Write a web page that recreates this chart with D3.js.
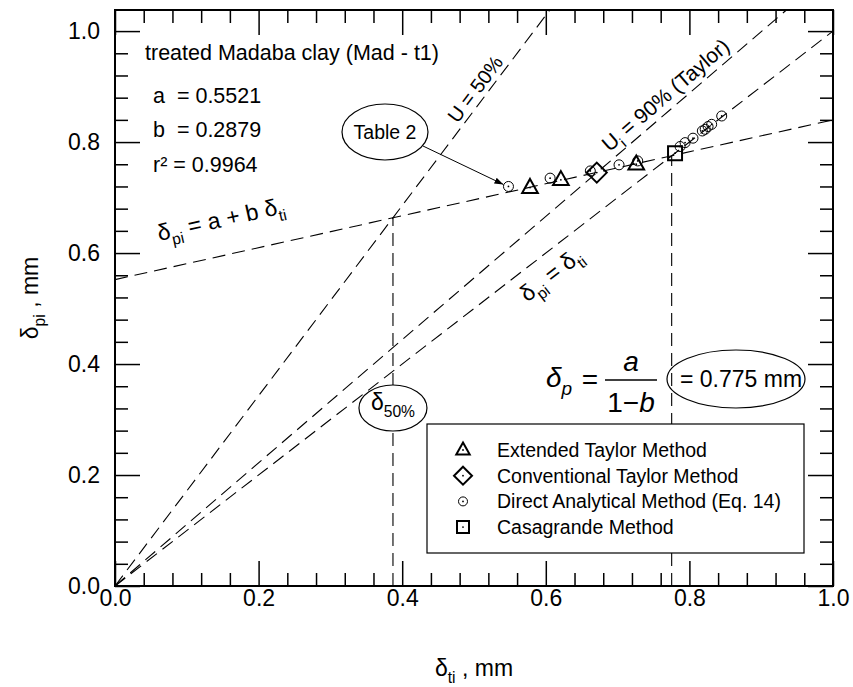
<!DOCTYPE html>
<html>
<head>
<meta charset="utf-8">
<script src="https://cdn.jsdelivr.net/npm/d3@7"></script>
<style>
  body { margin: 0; background: #fff; }
  svg text { font-family: "Liberation Sans", Arial, sans-serif; fill: #000; white-space: pre; }
</style>
</head>
<body>
<script>
const svgWidth = 853
const svgHeight = 687

// frame of the plot
const frame = { left: 115, right: 833, top: 10, bottom: 586 }

// axis ticks
const majorTicks = [0, 0.2, 0.4, 0.6, 0.8, 1.0]
const tickLabels = ["0.0", "0.2", "0.4", "0.6", "0.8", "1.0"]
const minorTicks = [0.04, 0.08, 0.12, 0.16, 0.24, 0.28, 0.32, 0.36, 0.44, 0.48, 0.52, 0.56,
                    0.64, 0.68, 0.72, 0.76, 0.84, 0.88, 0.92, 0.96]

// fit  d_pi = a + b d_ti
const fitA = 0.5521
const fitB = 0.2879
const fitR2 = 0.9964

// slopes of the lines through the origin
const slopeU50 = 1.714
const slopeU90 = 1.11
const slopeEqual = 1.0

// measured points (delta_ti, delta_pi)
const extTaylorX = [0.578, 0.621, 0.726]
const extTaylorY = [0.718, 0.732, 0.760]
const convTaylorX = [0.671]
const convTaylorY = [0.745]
const directX = [0.548, 0.606, 0.662, 0.702, 0.728, 0.787, 0.794, 0.805, 0.818, 0.822, 0.826, 0.831, 0.845]
const directY = [0.720, 0.735, 0.748, 0.759, 0.766, 0.792, 0.799, 0.807, 0.820, 0.823, 0.828, 0.832, 0.847]
const casaX = [0.780]
const casaY = [0.780]

const legendLabels = ["Extended Taylor Method", "Conventional Taylor Method",
                      "Direct Analytical Method (Eq. 14)", "Casagrande Method"]

const svg = d3.select("body").append("svg")
  .attr("width", svgWidth)
  .attr("height", svgHeight)

const x = d3.scaleLinear().domain([0, 1]).range([frame.left, frame.right])
const y = d3.scaleLinear().domain([0, 1.038]).range([frame.bottom, frame.top])

const yMax = y.domain()[1]
const dashed = "13,7"

// ---- axes (ticks pointing inward on all four sides)
function addAxis(axis, tx, ty, size, labels) {
  const g = svg.append("g")
    .attr("transform", `translate(${tx}, ${ty})`)
    .call(axis.tickSize(-size).tickFormat(labels ? (d, i) => labels[i] : ""))
  g.select(".domain").remove()
  g.selectAll(".tick line").attr("stroke", "#000").attr("stroke-width", 1.5)
  return g
}

const xb = addAxis(d3.axisBottom(x).tickValues(majorTicks).tickPadding(4), 0, frame.bottom, 25, tickLabels)
addAxis(d3.axisBottom(x).tickValues(minorTicks), 0, frame.bottom, 13)
addAxis(d3.axisTop(x).tickValues(majorTicks), 0, frame.top, 25)
addAxis(d3.axisTop(x).tickValues(minorTicks), 0, frame.top, 13)
const yl = addAxis(d3.axisLeft(y).tickValues(majorTicks).tickPadding(15), frame.left, 0, 25, tickLabels)
addAxis(d3.axisLeft(y).tickValues(minorTicks), frame.left, 0, 13)
addAxis(d3.axisRight(y).tickValues(majorTicks), frame.right, 0, 25)
addAxis(d3.axisRight(y).tickValues(minorTicks), frame.right, 0, 13)

xb.selectAll("text").attr("font-size", 23).attr("font-family", "Liberation Sans")
yl.selectAll("text").attr("font-size", 23).attr("font-family", "Liberation Sans")

svg.append("rect")
  .attr("x", frame.left).attr("y", frame.top)
  .attr("width", frame.right - frame.left).attr("height", frame.bottom - frame.top)
  .attr("fill", "none").attr("stroke", "#000").attr("stroke-width", 2)

// ---- text with subscripts
function rich(g, parts, size, family) {
  const t = g.append("text").attr("font-size", size)
  if (family) t.attr("font-family", family)
  let down = false
  parts.forEach(([s, sub]) => {
    const ts = t.append("tspan").text(s)
    if (sub) {
      ts.attr("font-size", size * 0.68)
      if (!down) { ts.attr("dy", size * 0.3); down = true }
    } else if (down) {
      ts.attr("dy", -size * 0.3); down = false
    }
  })
  return t
}

// axis titles
rich(svg.append("g").attr("transform", "translate(474, 676)"),
  [["δ"], ["ti", 1], [" , mm"]], 23).attr("text-anchor", "middle")
rich(svg.append("g").attr("transform", "translate(38, 298) rotate(-90)"),
  [["δ"], ["pi", 1], [" , mm"]], 23).attr("text-anchor", "middle")

// ---- dashed lines
const lineGen = d3.line().x(d => x(d[0])).y(d => y(d[1]))
const lines = svg.append("g").attr("fill", "none").attr("stroke", "#000")
  .attr("stroke-width", 1.1).attr("stroke-dasharray", dashed)

;[slopeU50, slopeU90, slopeEqual].forEach(s => {
  const xe = Math.min(1, yMax / s)
  lines.append("path").attr("d", lineGen([[0, 0], [xe, s * xe]]))
})
lines.append("path").attr("d", lineGen([[0, fitA], [1, fitA + fitB]]))

const x50 = fitA / (slopeU50 - fitB)
const xp = fitA / (1 - fitB)
lines.append("path").attr("d", lineGen([[x50, 0], [x50, fitA + fitB * x50]]))
lines.append("path").attr("d", lineGen([[xp, 0], [xp, xp]]))

// angle of a line of given slope on screen
function angle(s) {
  return -Math.atan2(y(0) - y(s), x(1) - x(0)) * 180 / Math.PI
}

// line labels
rich(svg.append("g").attr("transform", `translate(${x(0.07)}, ${y(fitA + fitB * 0.07)}) rotate(${angle(fitB)})`),
  [["δ"], ["pi", 1], [" = a + b δ"], ["ti", 1]], 23).attr("dy", -28)

rich(svg.append("g").attr("transform", `translate(${x(0.59)}, ${y(0.59)}) rotate(${angle(slopeEqual)})`),
  [["δ"], ["pi", 1], [" = δ"], ["ti", 1]], 23).attr("text-anchor", "middle").attr("dy", 28)

svg.append("g").attr("transform", `translate(${x(0.515)}, ${y(0.515 * slopeU50)}) rotate(${angle(slopeU50)})`)
  .append("text").attr("font-size", 20).attr("text-anchor", "middle").attr("dy", -5).text("U = 50%")

rich(svg.append("g").attr("transform", `translate(${x(0.695)}, ${y(0.695 * slopeU90)}) rotate(${angle(slopeU90)})`),
  [["U"], ["i", 1], [" = 90% (Taylor)"]], 21).attr("dy", -7)

// ---- annotation block
const info = svg.append("g")
info.append("text").attr("x", 145).attr("y", 60).attr("font-size", 21.5).text("treated Madaba clay (Mad - t1)")
info.append("text").attr("x", 153).attr("y", 103).attr("font-size", 21.5).text(`a  = ${fitA}`)
info.append("text").attr("x", 153).attr("y", 137).attr("font-size", 21.5).text(`b  = ${fitB}`)
info.append("text").attr("x", 153).attr("y", 172).attr("font-size", 21.5).text(`r² = ${fitR2}`)

// Table 2 callout
svg.append("defs").append("marker")
  .attr("id", "arrow").attr("viewBox", "0 0 10 10").attr("refX", 10).attr("refY", 5)
  .attr("markerWidth", 9).attr("markerHeight", 9).attr("orient", "auto")
  .append("path").attr("d", "M0,1.5 L10,5 L0,8.5 Z").attr("fill", "#000")

svg.append("ellipse").attr("cx", 385).attr("cy", 132).attr("rx", 43).attr("ry", 28)
  .attr("fill", "none").attr("stroke", "#000").attr("stroke-width", 1.2)
svg.append("text").attr("x", 385).attr("y", 139).attr("text-anchor", "middle").attr("font-size", 19.5).text("Table 2")
const tx = x(directX[0]) - 5, ty = y(directY[0]) - 2
svg.append("line").attr("x1", 423).attr("y1", 146).attr("x2", tx).attr("y2", ty)
  .attr("stroke", "#000").attr("stroke-width", 1).attr("marker-end", "url(#arrow)")

// delta_50 callout
svg.append("ellipse").attr("cx", x(x50)).attr("cy", 408).attr("rx", 34).attr("ry", 23)
  .attr("fill", "#fff").attr("stroke", "#000").attr("stroke-width", 1.2)
rich(svg.append("g").attr("transform", `translate(${x(x50)}, 410)`),
  [["δ"], ["50%", 1]], 23).attr("text-anchor", "middle")

// formula  delta_p = a / (1 - b)
const serif = "Liberation Serif"
const fx = svg.append("g")
rich(fx.append("g").attr("transform", "translate(546, 387)"), [["δ"], ["p", 1]], 28, serif)
  .attr("font-style", "italic")
fx.append("text").attr("x", 590).attr("y", 389).attr("font-family", serif).attr("font-size", 28)
  .attr("text-anchor", "middle").text("=")
fx.append("text").attr("x", 631).attr("y", 371).attr("font-family", serif).attr("font-size", 28)
  .attr("font-style", "italic").attr("text-anchor", "middle").text("a")
fx.append("line").attr("x1", 605).attr("x2", 657).attr("y1", 380).attr("y2", 380)
  .attr("stroke", "#000").attr("stroke-width", 1.3)
const den = fx.append("text").attr("x", 631).attr("y", 412).attr("font-family", serif).attr("font-size", 28)
  .attr("text-anchor", "middle")
den.append("tspan").text("1−")
den.append("tspan").attr("font-style", "italic").text("b")

svg.append("ellipse").attr("cx", 736).attr("cy", 379).attr("rx", 69).attr("ry", 29)
  .attr("fill", "none").attr("stroke", "#000").attr("stroke-width", 1.2)
svg.append("text").attr("x", 741).attr("y", 387).attr("text-anchor", "middle").attr("font-size", 23)
  .text(`= ${xp.toFixed(3)} mm`)

// ---- markers
function triPath(s) { return `M0,${-s * 0.62} L${s * 0.56},${s * 0.38} L${-s * 0.56},${s * 0.38} Z` }
function diaPath(s) { return `M0,${-s} L${s},0 L0,${s} L${-s},0 Z` }
function sqPath(s) { return `M${-s},${-s} H${s} V${s} H${-s} Z` }
function circPath(r) { return `M${r},0 A${r},${r} 0 1,1 ${-r},0 A${r},${r} 0 1,1 ${r},0 Z` }

const markerStyles = [
  { path: triPath(14), width: 2 },
  { path: diaPath(10), width: 2 },
  { path: circPath(5), width: 1 },
  { path: sqPath(7), width: 2 }
]

function drawMarkers(xs, ys, style) {
  const g = svg.append("g")
  const pts = xs.map((d, i) => [d, ys[i]])
  const m = g.selectAll("g").data(pts).enter().append("g")
    .attr("transform", d => `translate(${x(d[0])}, ${y(d[1])})`)
  m.append("path").attr("d", style.path).attr("fill", "none")
    .attr("stroke", "#000").attr("stroke-width", style.width)
  m.append("circle").attr("r", 0.9).attr("fill", "#000")
}

drawMarkers(directX, directY, markerStyles[2])
drawMarkers(extTaylorX, extTaylorY, markerStyles[0])
drawMarkers(convTaylorX, convTaylorY, markerStyles[1])
drawMarkers(casaX, casaY, markerStyles[3])

// ---- legend
const legend = svg.append("g")
legend.append("rect").attr("x", 427).attr("y", 424).attr("width", 377).attr("height", 129)
  .attr("fill", "#fff").attr("stroke", "#000").attr("stroke-width", 1.2)
const legendPaths = [triPath(12), diaPath(9), circPath(4.5), sqPath(6)]
legendLabels.forEach((lab, i) => {
  const ly = 450 + i * 25.7
  const m = legend.append("g").attr("transform", `translate(463, ${ly})`)
  m.append("path").attr("d", legendPaths[i])
    .attr("fill", "none").attr("stroke", "#000").attr("stroke-width", markerStyles[i].width)
  m.append("circle").attr("r", 0.9).attr("fill", "#000")
  legend.append("text").attr("x", 497).attr("y", ly + 7).attr("font-size", 19.5).text(lab)
})
</script>
</body>
</html>
